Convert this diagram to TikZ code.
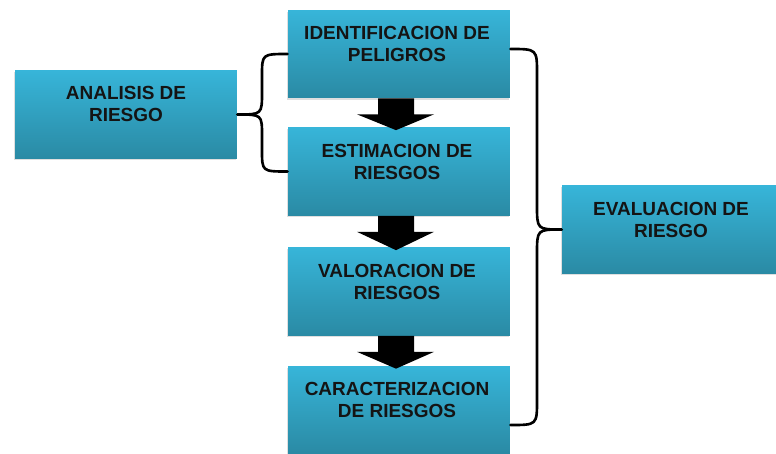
\documentclass[tikz,border=0pt]{standalone}
\usepackage{fontspec}
\setmainfont{Liberation Sans}
\usetikzlibrary{calc}
\usetikzlibrary{shadows}
\definecolor{cajaArriba}{HTML}{37B5D9}
\definecolor{cajaAbajo}{HTML}{2A8AA4}
\definecolor{texto}{HTML}{141414}
\tikzset{
    caja/.style={minimum width=4.44cm, minimum height=1.76cm, inner sep=0pt,
        top color=cajaArriba, middle color=cajaArriba!85!cajaAbajo, bottom color=cajaAbajo,
        drop shadow={shadow xshift=-0.6pt, shadow yshift=-1pt, opacity=0.25}},
    rotulo/.style={align=center, inner sep=0pt, text=texto,
        font=\fontsize{10.8}{12.5}\selectfont\bfseries},
    llave/.style={line width=1.5pt, line cap=round}
}

\begin{document}
\begin{tikzpicture}[x=0.02cm, y=-0.02cm]
            \useasboundingbox (0,0) rectangle (776,453);
            \node[caja] (analisis) at (126,114.5) {};
            \node[caja] (identificacion) at (399,54) {};
            \node[caja] (estimacion) at (399,171.5) {};
            \node[caja] (valoracion) at (399,291.5) {};
            \node[caja] (caracterizacion) at (399,410) {};
            \node[caja] (evaluacion) at (673,229.5) {};
            \node[rotulo] (tAnalisis) at ($(analisis.north)+(0,34)$) {ANALISIS DE\\RIESGO};
            \node[rotulo] (tIdentificacion) at ($(identificacion.north)+(-2,34.5)$) {IDENTIFICACION DE\\PELIGROS};
            \node[rotulo] (tEstimacion) at ($(estimacion.north)+(-2,34.5)$) {ESTIMACION DE\\RIESGOS};
            \node[rotulo] (tValoracion) at ($(valoracion.north)+(-2,34.5)$) {VALORACION DE\\RIESGOS};
            \node[rotulo] (tCaracterizacion) at ($(caracterizacion.north)+(-2,34.5)$) {CARACTERIZACION\\DE RIESGOS};
            \node[rotulo] (tEvaluacion) at ($(evaluacion.north)+(-2,34.5)$) {EVALUACION DE\\RIESGO};
            \foreach \a/\b in {identificacion/estimacion, estimacion/valoracion, valoracion/caracterizacion} {
                \fill[black] ($(\a.south)+(-21,0)$) -- ($(\a.south)+(15,0)$) -- ($(\a.south)+(15,16)$)
                    -- ($(\a.south)+(35,16)$) -- ($(\b.north)+(-3,3)$) -- ($(\a.south)+(-42,16)$)
                    -- ($(\a.south)+(-21,16)$) -- cycle;
            }
            \draw[llave] (identificacion.west) .. controls (262,54) .. (262,76) -- (262,92)
                .. controls (262,114.5) .. (analisis.east);
            \draw[llave] (estimacion.west) .. controls (262,171.5) .. (262,150) -- (262,136)
                .. controls (262,114.5) .. (analisis.east);
            \draw[llave] ($(identificacion.east)+(0,-5)$) .. controls (537,49) .. (537,74) -- (537,205)
                .. controls (537,229.5) .. (evaluacion.west);
            \draw[llave] ($(caracterizacion.east)+(0,15)$) .. controls (537,425) .. (537,400) -- (537,254)
                .. controls (537,229.5) .. (evaluacion.west);
        \end{tikzpicture}
\end{document}
